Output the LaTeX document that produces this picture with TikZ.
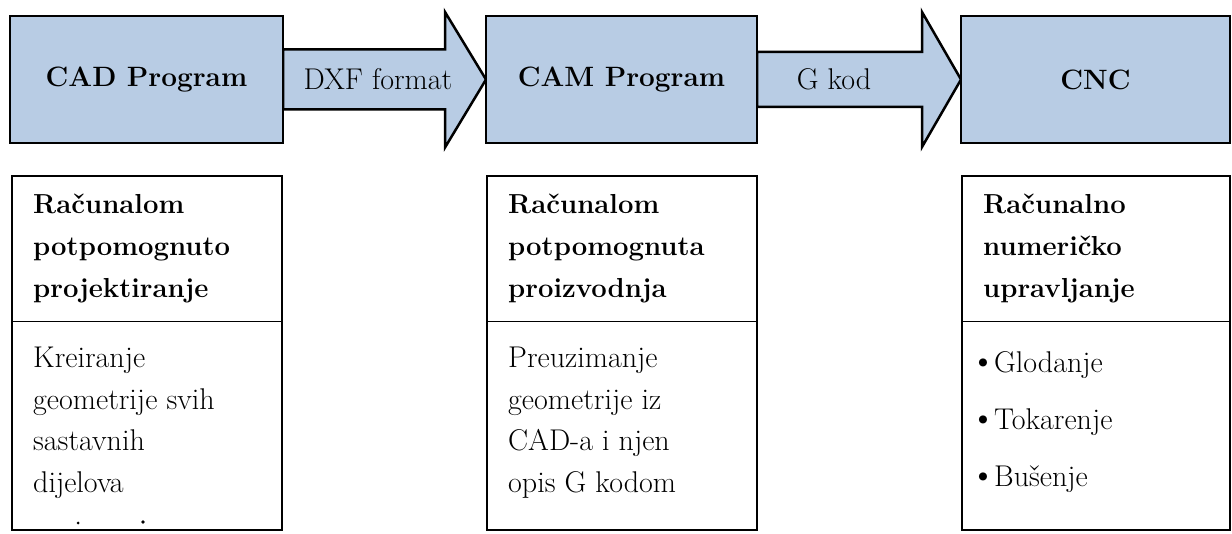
\documentclass[tikz,border=0pt]{standalone}
\usepackage{fontspec}
\usepackage{xcolor}
\definecolor{boxblue}{RGB}{184,204,228}
\usetikzlibrary{positioning,calc,backgrounds}

\begin{document}
\begin{tikzpicture}[x=1pt, y=1pt,
    topbox/.style={draw, line width=2.5pt, fill=boxblue, outer sep=0pt, minimum height=127pt,
        font=\bfseries\fontsize{28}{34}\selectfont},
    infobox/.style={draw, line width=2.5pt, outer sep=0pt, minimum width=270pt, minimum height=354pt},
    flow/.style={draw, line width=2.5pt, fill=boxblue, line join=miter},
    flowlabel/.style={font=\fontsize{30}{36}\selectfont, inner sep=0pt},
    divide/.style={line width=1pt},
    headtext/.style={anchor=base west, inner sep=0pt, font=\bfseries\fontsize{27.5}{34}\selectfont},
    bodytext/.style={anchor=base west, inner sep=0pt, font=\fontsize{30}{36}\selectfont}]
    \useasboundingbox (0,0) rectangle (1232,533);

    \node[topbox, minimum width=273pt] (cad) at (146.5,453.5) {CAD Program};
    \node[topbox, minimum width=271pt] (cam) at (621.5,453.5) {CAM Program};
    \node[topbox, minimum width=269pt] (cnc) at (1095.5,453.5) {CNC};

    \begin{scope}[on background layer]
    \draw[flow] ([yshift=30pt]cad.east) -- ++(162,0) -- ++(0,37.5) -- (cam.west)
        -- ++(-41,-68) -- ++(0,38) -- ([yshift=-30pt]cad.east) -- cycle;
    \draw[flow] ([yshift=27.5pt]cam.east) -- ++(165,0) -- ++(0,40) -- (cnc.west)
        -- ++(-39,-67.5) -- ++(0,40) -- ([yshift=-27.5pt]cam.east) -- cycle;
    \end{scope}
    \node[flowlabel] (dxf) at (378,453.5) {DXF format};
    \node[flowlabel] (gkod) at (834,453.5) {G kod};

    \node[infobox] (cadinfo) at (147,180) {};
    \node[infobox] (caminfo) at (622,180) {};
    \node[infobox, minimum width=268pt] (cncinfo) at (1096,180) {};

    \draw[divide] ([yshift=-146pt]cadinfo.north west) -- ([yshift=-146pt]cadinfo.north east);
    \draw[divide] ([yshift=-146pt]caminfo.north west) -- ([yshift=-146pt]caminfo.north east);
    \draw[divide] ([yshift=-146pt]cncinfo.north west) -- ([yshift=-146pt]cncinfo.north east);

    \foreach \t [count=\i] in {Računalom, potpomognuto, projektiranje}
        \node[headtext] (cadh\i) at (33,361-42*\i) {\t};
    \foreach \t [count=\i] in {Kreiranje, geometrije svih, sastavnih, dijelova}
        \node[bodytext] (cadb\i) at (33,206.5-41.5*\i) {\t};
    \fill (78,10) circle (1.5pt);
    \fill (143,11) circle (1.8pt);

    \foreach \t [count=\i] in {Računalom, potpomognuta, proizvodnja}
        \node[headtext] (camh\i) at (508,361-42*\i) {\t};
    \foreach \t [count=\i] in {Preuzimanje, geometrije iz, CAD-a i njen, opis G kodom}
        \node[bodytext] (camb\i) at (508,206.5-41.5*\i) {\t};

    \foreach \t [count=\i] in {Računalno, numeričko, upravljanje}
        \node[headtext] (cnch\i) at (983,361-42*\i) {\t};
    \foreach \t [count=\i] in {Glodanje, Tokarenje, Bušenje}
        \node[bodytext] (cncb\i) at (970,217-57*\i) {\scalebox{1.2}{\textbullet}\kern-2pt\t};
\end{tikzpicture}
\end{document}
